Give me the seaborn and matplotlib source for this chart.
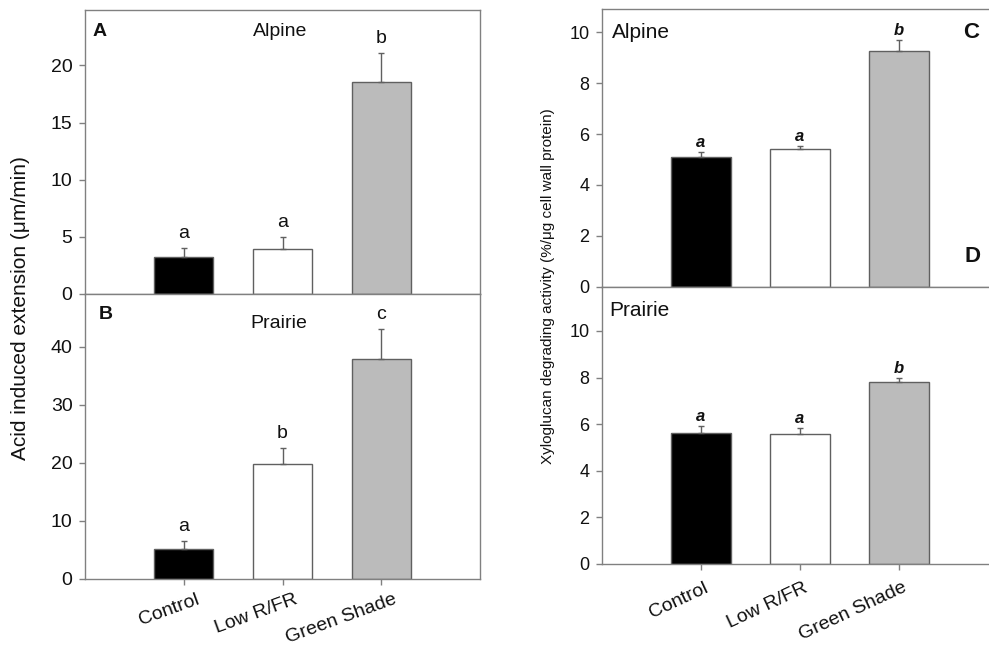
import numpy as np
import pandas as pd
import matplotlib
matplotlib.use("Agg")
import matplotlib.pyplot as plt
import matplotlib.transforms as mtransforms
import seaborn as sns

# ---------------- data ----------------
treatments = ["Control", "Low R/FR", "Green Shade"]
bar_colors = ["#000000", "#ffffff", "#bbbbbb"]

ext_alpine = [3.26, 3.96, 18.57]
ext_alpine_err = [0.79, 1.04, 2.49]
ext_alpine_letters = ["a", "a", "b"]

ext_prairie = [5.17, 19.7, 37.9]
ext_prairie_err = [1.28, 2.9, 5.15]
ext_prairie_letters = ["a", "b", "c"]

xg_alpine = [5.09, 5.41, 9.28]
xg_alpine_err = [0.22, 0.13, 0.43]
xg_alpine_letters = ["a", "a", "b"]

xg_prairie = [5.61, 5.57, 7.80]
xg_prairie_err = [0.30, 0.26, 0.19]
xg_prairie_letters = ["a", "a", "b"]

yticks_A = [0, 5, 10, 15, 20]
yticks_B = [0, 10, 20, 30, 40]
yticks_CD = [0, 2, 4, 6, 8, 10]

# ---------------- style ----------------
sns.set_theme(style="white")
plt.rcParams["font.family"] = ["Liberation Sans", "DejaVu Sans"]
plt.rcParams["axes.edgecolor"] = "#808080"
plt.rcParams["axes.linewidth"] = 1.0

W, H = 989, 646
fig = plt.figure(figsize=(W / 100, H / 100), dpi=100)

def fr(x0, y0, x1, y1):
    return [x0 / W, 1 - y1 / H, (x1 - x0) / W, (y1 - y0) / H]

axA = fig.add_axes(fr(85, 9.5, 480, 294))
axB = fig.add_axes(fr(85, 294, 480, 578.7))
axC = fig.add_axes(fr(602, 9.3, 998, 286.7))
axD = fig.add_axes(fr(602, 286.7, 998, 564))

def draw(ax, vals, errs, letters, ylim, yticks, tick_fs, letter_kw, letter_off):
    df = pd.DataFrame({"t": treatments, "v": vals})
    sns.barplot(data=df, x="t", y="v", hue="t", palette=bar_colors,
                order=treatments, hue_order=treatments, legend=False,
                width=0.6, edgecolor="#606060", linewidth=1.0, ax=ax,
                errorbar=None)
    xs = np.arange(len(treatments))
    ax.errorbar(xs, vals, yerr=[np.zeros(len(vals)), errs], fmt="none",
                ecolor="#606060", elinewidth=1.0, capsize=2.5, capthick=1.0,
                zorder=3)
    for x, v, e, l in zip(xs, vals, errs, letters):
        ax.annotate(l, (x, v + e), xytext=(0, letter_off),
                    textcoords="offset pixels", ha="center", va="bottom",
                    **letter_kw)
    ax.set_xlim(-1, 3)
    ax.set_ylim(*ylim)
    ax.set_yticks(yticks)
    ax.set_xlabel("")
    ax.set_ylabel("")
    ax.tick_params(axis="y", direction="out", length=4, width=1,
                   color="#808080", labelsize=tick_fs, pad=5,
                   left=True, labelcolor="#111111")
    ax.tick_params(axis="x", direction="out", length=4, width=1,
                   color="#808080", bottom=True)
    for s in ax.spines.values():
        s.set_color("#808080")

left_letter = dict(fontsize=14, color="#111111")
right_letter = dict(fontsize=12, fontweight="bold", fontstyle="italic",
                    color="#111111")

draw(axA, ext_alpine, ext_alpine_err, ext_alpine_letters, (0, 24.9),
     yticks_A, 14, left_letter, 6)
draw(axB, ext_prairie, ext_prairie_err, ext_prairie_letters, (0, 49.1),
     yticks_B, 14, left_letter, 6)
draw(axC, xg_alpine, xg_alpine_err, xg_alpine_letters, (0, 10.9),
     yticks_CD, 13, right_letter, 2)
draw(axD, xg_prairie, xg_prairie_err, xg_prairie_letters, (0, 11.9),
     yticks_CD, 13, right_letter, 2)

axA.tick_params(axis="x", bottom=False, labelbottom=False)
axC.tick_params(axis="x", labelbottom=False)

def rot_labels(ax, rot, dx, dy, fs):
    ax.set_xticks(range(len(treatments)))
    ax.set_xticklabels(treatments, rotation=rot, ha="right",
                       rotation_mode="anchor", fontsize=fs, color="#111111")
    off = mtransforms.ScaledTranslation(dx / 100, dy / 100, fig.dpi_scale_trans)
    for lab in ax.get_xticklabels():
        lab.set_transform(lab.get_transform() + off)

rot_labels(axB, 20, 12, -2, 14)
rot_labels(axD, 25, 3, -5, 14)

# panel annotations
axA.text(100 / W, 1 - 32 / H, "A", transform=fig.transFigure, fontsize=14,
         fontweight="bold", ha="center", va="center", color="#111111")
axA.text(280 / W, 1 - 32 / H, "Alpine", transform=fig.transFigure,
         fontsize=14, ha="center", va="center", color="#111111")
axB.text(106 / W, 1 - 314 / H, "B", transform=fig.transFigure, fontsize=14,
         fontweight="bold", ha="center", va="center", color="#111111")
axB.text(279 / W, 1 - 323 / H, "Prairie", transform=fig.transFigure,
         fontsize=14, ha="center", va="center", color="#111111")
axC.text(612 / W, 1 - 32 / H, "Alpine", transform=fig.transFigure,
         fontsize=15, ha="left", va="center", color="#111111")
axC.text(971 / W, 1 - 32 / H, "C", transform=fig.transFigure, fontsize=16,
         fontweight="bold", ha="center", va="center", color="#111111")
axC.text(972 / W, 1 - 257 / H, "D", transform=fig.transFigure, fontsize=16,
         fontweight="bold", ha="center", va="center", color="#111111")
axD.text(609 / W, 1 - 310 / H, "Prairie", transform=fig.transFigure,
         fontsize=15, ha="left", va="center", color="#111111")

fig.text(21 / W, 1 - 308 / H, "Acid induced extension (μm/min)",
         rotation=90, ha="center", va="center", fontsize=15, color="#111111")
fig.text(548 / W, 1 - 286 / H,
         "Xyloglucan degrading activity (%/μg cell wall protein)",
         rotation=90, ha="center", va="center", fontsize=11, color="#111111")

fig.savefig("out.png", dpi=100)
